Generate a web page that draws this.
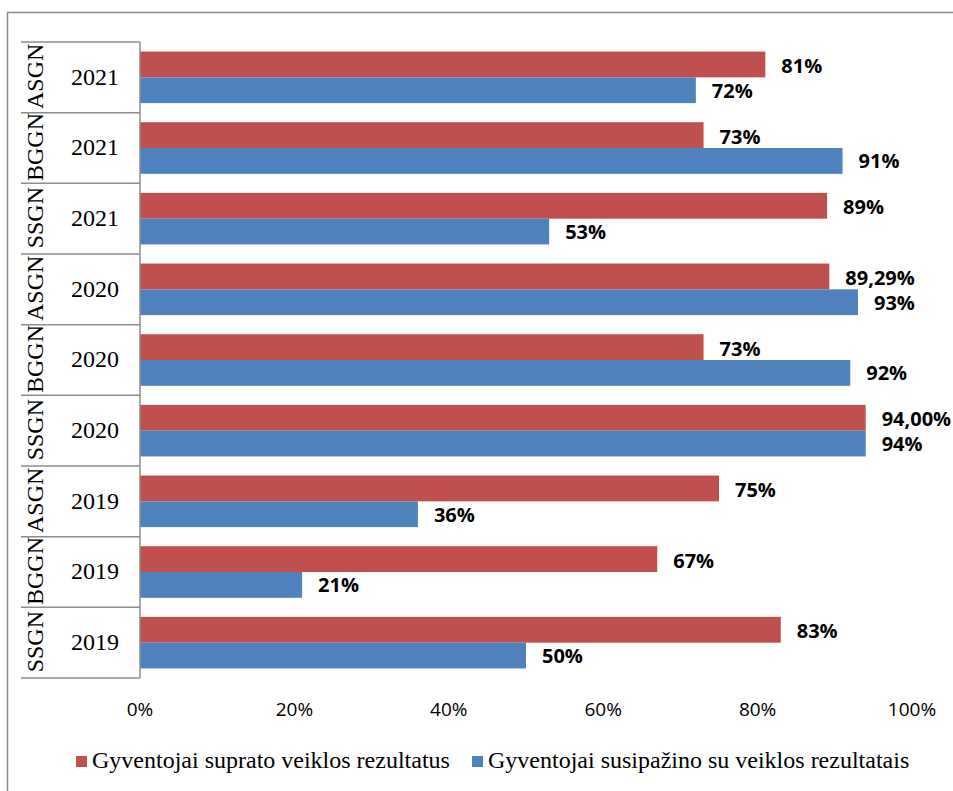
<!DOCTYPE html>
<html>
<head>
<meta charset="utf-8">
<script src="https://cdn.jsdelivr.net/npm/d3@7"></script>
<style>
  body { margin: 0; background: #fff; }
</style>
</head>
<body>
<div id="chart"></div>
<script>
const groups = ['ASGN', 'BGGN', 'SSGN', 'ASGN', 'BGGN', 'SSGN', 'ASGN', 'BGGN', 'SSGN']
const years = ['2021', '2021', '2021', '2020', '2020', '2020', '2019', '2019', '2019']
const understood = [81, 73, 89, 89.29, 73, 94, 75, 67, 83]
const informed = [72, 91, 53, 93, 92, 94, 36, 21, 50]
const understoodLabels = ['81%', '73%', '89%', '89,29%', '73%', '94,00%', '75%', '67%', '83%']
const informedLabels = ['72%', '91%', '53%', '93%', '92%', '94%', '36%', '21%', '50%']
const xTicks = [0, 20, 40, 60, 80, 100]
const seriesNames = ['Gyventojai suprato veiklos rezultatus', 'Gyventojai susipažino su veiklos rezultatais']

const red = '#C0504D'
const blue = '#4F81BD'

const width = 953
const height = 791
const margin = { top: 42, left: 140, right: 41, bottom: 113 }

const svg = d3
  .select('#chart')
  .append('svg')
  .attr('width', width)
  .attr('height', height)

// outer frame
svg
  .append('rect')
  .attr('x', 7.5)
  .attr('y', 12.5)
  .attr('width', 960)
  .attr('height', 800)
  .attr('fill', 'none')
  .attr('stroke', '#898989')
  .attr('stroke-width', 1.5)

const xScale = d3
  .scaleLinear()
  .domain([0, 100])
  .range([margin.left, width - margin.right])

const rows = d3.range(groups.length)

const yScale = d3
  .scaleBand()
  .domain(rows)
  .range([margin.top, height - margin.bottom])

const inner = d3
  .scaleBand()
  .domain(['u', 'i'])
  .range([0, yScale.bandwidth()])
  .paddingOuter(0.37)
  .paddingInner(0)

// bars
svg
  .selectAll('.bar-u')
  .data(rows)
  .enter()
  .append('rect')
  .attr('class', 'bar-u')
  .attr('x', xScale(0))
  .attr('y', d => yScale(d) + inner('u'))
  .attr('width', d => xScale(understood[d]) - xScale(0))
  .attr('height', inner.bandwidth())
  .attr('fill', red)

svg
  .selectAll('.bar-i')
  .data(rows)
  .enter()
  .append('rect')
  .attr('class', 'bar-i')
  .attr('x', xScale(0))
  .attr('y', d => yScale(d) + inner('i'))
  .attr('width', d => xScale(informed[d]) - xScale(0))
  .attr('height', inner.bandwidth())
  .attr('fill', blue)

// value labels
svg
  .selectAll('.lab-u')
  .data(rows)
  .enter()
  .append('text')
  .attr('class', 'lab-u')
  .attr('x', d => xScale(understood[d]) + 16)
  .attr('y', d => yScale(d) + inner('u') + inner.bandwidth() / 2 + 1.5)
  .attr('dy', '0.35em')
  .attr('font-family', 'Open Sans, sans-serif')
  .attr('font-weight', 700)
  .attr('font-size', 20)
  .attr('fill', '#000')
  .text(d => understoodLabels[d])

svg
  .selectAll('.lab-i')
  .data(rows)
  .enter()
  .append('text')
  .attr('class', 'lab-i')
  .attr('x', d => xScale(informed[d]) + 16)
  .attr('y', d => yScale(d) + inner('i') + inner.bandwidth() / 2 + 0.5)
  .attr('dy', '0.35em')
  .attr('font-family', 'Open Sans, sans-serif')
  .attr('font-weight', 700)
  .attr('font-size', 20)
  .attr('fill', '#000')
  .text(d => informedLabels[d])

// category axis: vertical line and row separators
const axisColor = '#8c8c8c'

svg
  .append('line')
  .attr('x1', xScale(0))
  .attr('x2', xScale(0))
  .attr('y1', yScale.range()[0])
  .attr('y2', yScale.range()[1])
  .attr('stroke', axisColor)
  .attr('stroke-width', 1.5)

const separators = rows.map(d => yScale(d)).concat([yScale.range()[1]])

svg
  .selectAll('.sep')
  .data(separators)
  .enter()
  .append('line')
  .attr('class', 'sep')
  .attr('x1', 21)
  .attr('x2', xScale(0))
  .attr('y1', d => d)
  .attr('y2', d => d)
  .attr('stroke', axisColor)
  .attr('stroke-width', 1.5)

svg
  .selectAll('.year')
  .data(rows)
  .enter()
  .append('text')
  .attr('class', 'year')
  .attr('x', 95)
  .attr('y', d => yScale(d) + yScale.bandwidth() / 2 - 1)
  .attr('dy', '0.35em')
  .attr('text-anchor', 'middle')
  .attr('font-family', 'Liberation Serif, Times New Roman, serif')
  .attr('font-size', 24)
  .text(d => years[d])

svg
  .selectAll('.group')
  .data(rows)
  .enter()
  .append('text')
  .attr('class', 'group')
  .attr('transform', d => 'translate(34.5,' + (yScale(d) + yScale.bandwidth() / 2 - 1) + ') rotate(-90)')
  .attr('dy', '0.35em')
  .attr('text-anchor', 'middle')
  .attr('font-family', 'Liberation Serif, Times New Roman, serif')
  .attr('font-size', 24)
  .text(d => groups[d])

// x axis tick labels
svg
  .selectAll('.xtick')
  .data(xTicks)
  .enter()
  .append('text')
  .attr('class', 'xtick')
  .attr('x', d => xScale(d))
  .attr('y', 709)
  .attr('dy', '0.35em')
  .attr('text-anchor', 'middle')
  .attr('font-family', 'Open Sans, sans-serif')
  .attr('font-size', 19)
  .text(d => d + '%')

// legend
const legendX = [76, 472]
const legendColors = [red, blue]

const legend = svg
  .selectAll('.legend')
  .data(seriesNames)
  .enter()
  .append('g')
  .attr('class', 'legend')
  .attr('transform', (d, i) => 'translate(' + legendX[i] + ',756)')

legend
  .append('rect')
  .attr('width', 11)
  .attr('height', 11)
  .attr('fill', (d, i) => legendColors[i])

legend
  .append('text')
  .attr('x', 16)
  .attr('y', 4)
  .attr('dy', '0.35em')
  .attr('font-family', 'Liberation Serif, Times New Roman, serif')
  .attr('font-size', 24)
  .text(d => d)
</script>
</body>
</html>
